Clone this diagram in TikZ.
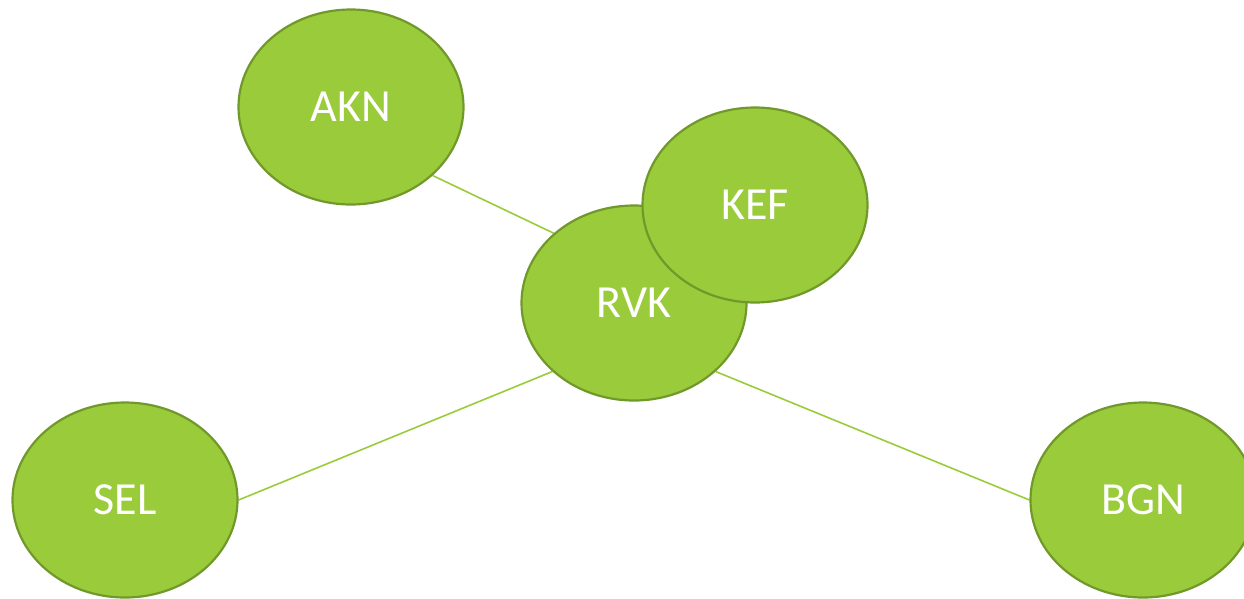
\documentclass[tikz,border=0pt]{standalone}
\usepackage{fontspec}
\setmainfont{Carlito}
\usetikzlibrary{shapes.geometric,backgrounds}
\definecolor{nodefill}{HTML}{9ACB3A}
\definecolor{nodeline}{HTML}{71982A}
\definecolor{linkcol}{HTML}{9ACB3A}
\tikzset{
  city/.style={ellipse, draw=nodeline, fill=nodefill, line width=2.2pt, inner sep=0pt,
    minimum width=225pt, minimum height=195pt, text=white,
    font=\fontsize{46}{52}\selectfont},
  link/.style={draw=linkcol, line width=1.6pt}
}
\begin{document}
\begin{tikzpicture}[x=1pt,y=-1pt]
\useasboundingbox (0,0) rectangle (1244,598);
\node[city] (AKN) at (351,107) {AKN};
\node[city] (SEL) at (125,500) {SEL};
\node[city] (BGN) at (1143,500) {BGN};
\node[city] (RVK) at (634,303) {RVK};
\node[city] (KEF) at (755,205) {KEF};
\begin{scope}[on background layer]
\path[link] (AKN.-40.9) -- (RVK.139.1);
\path[link] (SEL.east) -- (RVK.220.9);
\path[link] (RVK.-40.9) -- (BGN.west);
\end{scope}
\end{tikzpicture}
\end{document}
